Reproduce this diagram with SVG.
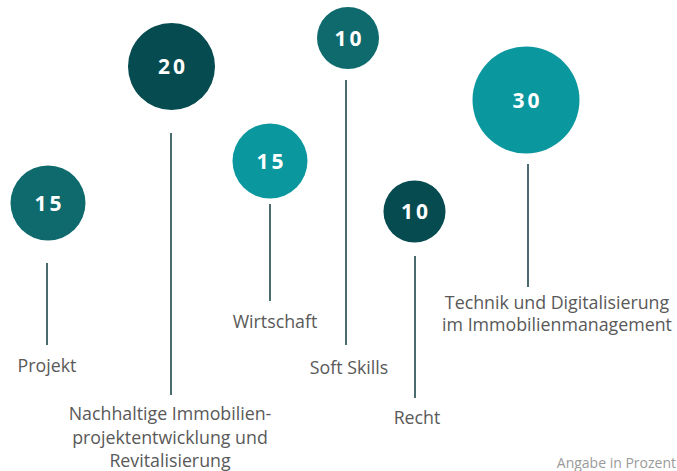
<svg xmlns="http://www.w3.org/2000/svg" width="677" height="471" viewBox="0 0 677 471">
<style>
.num{font-family:"Open Sans",Lato,sans-serif;font-weight:700;font-size:21px;fill:#ffffff;text-anchor:middle;letter-spacing:3px}
.lbl{font-family:"Open Sans",Lato,sans-serif;font-size:17.8px;fill:#595959;text-anchor:middle}
.c1{fill:#0e6a6c}.c2{fill:#054b4f}.c3{fill:#0b979e}
.ln{stroke:#4a6b70;stroke-width:2;fill:none}
.note{font-family:"Open Sans",Lato,sans-serif;font-size:14px;fill:#9a9a9a;text-anchor:end}
</style>
<rect width="677" height="471" fill="#ffffff"/>
<g id="connectors">
<line class="ln" x1="47" y1="263" x2="47" y2="345"/>
<line class="ln" x1="171" y1="133" x2="171" y2="395"/>
<line class="ln" x1="270" y1="204" x2="270" y2="301"/>
<line class="ln" x1="346" y1="80" x2="346" y2="345"/>
<line class="ln" x1="415" y1="256" x2="415" y2="398"/>
<line class="ln" x1="528" y1="164" x2="528" y2="287"/>
</g>
<g id="projekt">
<circle class="c1" cx="48" cy="203" r="37.5"/>
<text class="num" x="49.5" y="211">15</text>
<text class="lbl" x="47" y="372">Projekt</text>
</g>
<g id="nachhaltig">
<circle class="c2" cx="171.5" cy="66.5" r="43.5"/>
<text class="num" x="173" y="74">20</text>
<text class="lbl" x="170" y="420">Nachhaltige Immobilien-</text>
<text class="lbl" x="170" y="444">projektentwicklung und</text>
<text class="lbl" x="170" y="467">Revitalisierung</text>
</g>
<g id="wirtschaft">
<circle class="c3" cx="270" cy="161" r="37.5"/>
<text class="num" x="271.5" y="169">15</text>
<text class="lbl" x="275" y="328">Wirtschaft</text>
</g>
<g id="softskills">
<circle class="c1" cx="348" cy="38" r="31"/>
<text class="num" x="349.5" y="46">10</text>
<text class="lbl" x="349" y="374">Soft Skills</text>
</g>
<g id="recht">
<circle class="c2" cx="414.5" cy="211.5" r="31"/>
<text class="num" x="416" y="219">10</text>
<text class="lbl" x="417" y="424">Recht</text>
</g>
<g id="technik">
<circle class="c3" cx="526" cy="100" r="53.5"/>
<text class="num" x="527.5" y="108">30</text>
<text class="lbl" x="557" y="309">Technik und Digitalisierung</text>
<text class="lbl" x="557" y="331">im Immobilienmanagement</text>
</g>
<text class="note" x="676" y="468">Angabe in Prozent</text>
</svg>
